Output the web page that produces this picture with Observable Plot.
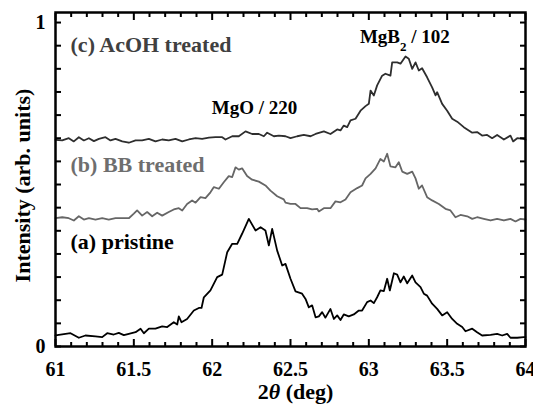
<!DOCTYPE html>
<html>
<head>
<meta charset="utf-8">
<script src="https://cdn.jsdelivr.net/npm/d3@7"></script>
<script src="https://cdn.jsdelivr.net/npm/@observablehq/plot@0.6"></script>
<style>
  html, body { margin: 0; padding: 0; background: #fff; }
  #chart { width: 533px; height: 407px; }
</style>
</head>
<body>
<div id="chart"></div>
<script>
// ---- Data ----
// (a) pristine
const thetaA = [61.000,61.064,61.096,61.149,61.191,61.255,61.298,61.330,61.372,61.404,61.436,61.468,61.511,61.543,61.564,61.596,61.638,61.681,61.713,61.755,61.777,61.787,61.804,61.840,61.883,61.915,61.932,61.947,61.989,62.032,62.064,62.096,62.128,62.160,62.191,62.234,62.277,62.309,62.340,62.362,62.383,62.415,62.447,62.468,62.500,62.532,62.574,62.596,62.617,62.638,62.660,62.681,62.702,62.723,62.755,62.777,62.798,62.819,62.840,62.872,62.904,62.936,62.957,62.989,63.011,63.032,63.053,63.074,63.096,63.117,63.134,63.160,63.181,63.202,63.223,63.245,63.277,63.298,63.330,63.351,63.372,63.404,63.436,63.468,63.500,63.532,63.564,63.596,63.617,63.660,63.691,63.723,63.777,63.819,63.851,63.883,63.904,63.947,63.989,64.000];
const intensityA = [0.034,0.039,0.041,0.027,0.034,0.031,0.029,0.041,0.037,0.042,0.035,0.039,0.044,0.055,0.041,0.055,0.055,0.062,0.060,0.075,0.068,0.093,0.075,0.085,0.111,0.119,0.119,0.152,0.173,0.214,0.222,0.291,0.317,0.317,0.348,0.394,0.358,0.368,0.358,0.312,0.363,0.296,0.250,0.255,0.209,0.170,0.163,0.147,0.121,0.127,0.090,0.093,0.106,0.089,0.116,0.085,0.096,0.082,0.099,0.093,0.099,0.111,0.111,0.137,0.142,0.134,0.152,0.173,0.171,0.209,0.173,0.226,0.222,0.198,0.216,0.195,0.219,0.198,0.183,0.163,0.157,0.132,0.116,0.096,0.106,0.085,0.070,0.060,0.047,0.055,0.044,0.034,0.036,0.039,0.034,0.039,0.027,0.027,0.029,0.029];

// (b) BB treated
const thetaB = [61.000,61.043,61.085,61.117,61.149,61.181,61.213,61.255,61.298,61.340,61.383,61.426,61.468,61.500,61.521,61.553,61.585,61.617,61.649,61.681,61.723,61.755,61.787,61.809,61.840,61.872,61.894,61.926,61.957,61.989,62.011,62.043,62.074,62.106,62.128,62.149,62.170,62.191,62.223,62.255,62.298,62.340,62.372,62.415,62.457,62.468,62.500,62.532,62.564,62.606,62.638,62.670,62.681,62.713,62.755,62.787,62.819,62.851,62.883,62.926,62.957,62.979,63.011,63.043,63.074,63.096,63.117,63.138,63.170,63.191,63.213,63.245,63.277,63.298,63.319,63.340,63.372,63.404,63.447,63.489,63.521,63.553,63.585,63.628,63.660,63.691,63.734,63.777,63.819,63.862,63.904,63.936,63.968,64.000];
const intensityB = [0.396,0.399,0.396,0.389,0.402,0.392,0.396,0.392,0.396,0.392,0.396,0.396,0.396,0.410,0.420,0.404,0.415,0.402,0.413,0.404,0.415,0.423,0.427,0.420,0.440,0.451,0.444,0.461,0.458,0.476,0.492,0.487,0.507,0.526,0.523,0.553,0.546,0.550,0.526,0.515,0.509,0.497,0.481,0.464,0.454,0.444,0.440,0.440,0.427,0.427,0.423,0.425,0.417,0.427,0.427,0.448,0.445,0.454,0.476,0.489,0.497,0.519,0.533,0.550,0.579,0.571,0.595,0.556,0.553,0.569,0.540,0.533,0.540,0.519,0.487,0.497,0.461,0.451,0.440,0.425,0.420,0.399,0.406,0.402,0.394,0.399,0.394,0.389,0.394,0.389,0.394,0.386,0.394,0.392];

// (c) AcOH treated
const thetaC = [61.000,61.043,61.085,61.117,61.149,61.181,61.213,61.245,61.277,61.319,61.351,61.383,61.426,61.468,61.511,61.553,61.596,61.638,61.681,61.723,61.766,61.809,61.851,61.894,61.936,61.979,62.021,62.064,62.085,62.128,62.170,62.213,62.255,62.298,62.330,62.351,62.394,62.426,62.468,62.500,62.543,62.585,62.628,62.660,62.713,62.755,62.798,62.819,62.840,62.862,62.883,62.915,62.947,62.979,63.000,63.011,63.032,63.053,63.085,63.106,63.138,63.149,63.181,63.202,63.234,63.255,63.277,63.298,63.319,63.340,63.372,63.404,63.426,63.436,63.468,63.500,63.532,63.564,63.606,63.660,63.691,63.723,63.755,63.787,63.819,63.862,63.904,63.921,63.947,63.989,64.000];
const intensityC = [0.638,0.636,0.643,0.633,0.646,0.636,0.643,0.634,0.641,0.646,0.636,0.641,0.633,0.629,0.636,0.636,0.641,0.633,0.639,0.636,0.641,0.633,0.639,0.643,0.641,0.645,0.646,0.646,0.639,0.649,0.649,0.664,0.656,0.656,0.649,0.660,0.649,0.651,0.649,0.643,0.649,0.653,0.649,0.656,0.664,0.656,0.670,0.667,0.682,0.677,0.698,0.703,0.728,0.742,0.749,0.790,0.775,0.806,0.836,0.842,0.836,0.877,0.877,0.873,0.895,0.888,0.857,0.877,0.852,0.859,0.831,0.800,0.775,0.785,0.749,0.728,0.703,0.694,0.677,0.660,0.662,0.651,0.653,0.643,0.653,0.639,0.651,0.633,0.643,0.641,0.638];

// Tick labels / tick values
const xMajorTicks = [61, 61.5, 62, 62.5, 63, 63.5, 64];
const xTickLabels = ["61", "61.5", "62", "62.5", "63", "63.5", "64"];
const xMinorTicks = [61.1,61.2,61.3,61.4,61.6,61.7,61.8,61.9,62.1,62.2,62.3,62.4,62.6,62.7,62.8,62.9,63.1,63.2,63.3,63.4,63.6,63.7,63.8,63.9];
const yLabelTicks = [0, 1];
const yTickLabels = ["0", "1"];
const yTicks = d3.range(15).map(k => k / 14);

// Series labels
const seriesLabels = ["(c) AcOH treated", "(b) BB treated", "(a) pristine"];
const peakLabels = ["MgO / 220", "MgB2 / 102"];
const xTitle = "2θ (deg)";
const yTitle = "Intensity (arb. units)";

// ---- Build tables ----
const rows = (th, iv) => th.map((t, i) => ({t, v: iv[i]}));
const dataA = rows(thetaA, intensityA);
const dataB = rows(thetaB, intensityB);
const dataC = rows(thetaC, intensityC);

const blank = () => "";
const FONT = "'Liberation Serif', 'Times New Roman', serif";

const plot = Plot.plot({
  width: 533,
  height: 407,
  marginLeft: 55,
  marginRight: 8,
  marginTop: 12,
  marginBottom: 61,
  style: {fontFamily: FONT, fontSize: "20px", fontWeight: "bold", background: "#fff", color: "#000", overflow: "visible"},
  x: {domain: [61, 64]},
  y: {domain: [0, 1.031]},
  marks: [
    // curves
    Plot.line(dataC, {x: "t", y: "v", stroke: "#2e2e2e", strokeWidth: 1.8}),
    Plot.line(dataB, {x: "t", y: "v", stroke: "#666666", strokeWidth: 1.8}),
    Plot.line(dataA, {x: "t", y: "v", stroke: "#000000", strokeWidth: 1.8}),
    // inward ticks
    Plot.axisX({anchor: "bottom", ticks: xMajorTicks, tickSize: -7, tickFormat: blank, label: null, strokeWidth: 2}),
    Plot.axisX({anchor: "bottom", ticks: xMinorTicks, tickSize: -4, tickFormat: blank, label: null, strokeWidth: 2}),
    Plot.axisX({anchor: "top", ticks: xMajorTicks, tickSize: -7, tickFormat: blank, label: null, strokeWidth: 2}),
    Plot.axisX({anchor: "top", ticks: xMinorTicks, tickSize: -4, tickFormat: blank, label: null, strokeWidth: 2}),
    Plot.axisY({anchor: "left", ticks: yTicks, tickSize: -6, tickFormat: blank, label: null, strokeWidth: 2}),
    Plot.axisY({anchor: "right", ticks: yTicks, tickSize: -6, tickFormat: blank, label: null, strokeWidth: 2}),
    // tick labels
    Plot.axisX({anchor: "bottom", ticks: xMajorTicks, tickSize: 0, tickPadding: 15,
      tickFormat: d => xTickLabels[xMajorTicks.indexOf(d)], label: null, fontSize: 20, fontWeight: "bold"}),
    Plot.axisY({anchor: "left", ticks: yLabelTicks, tickSize: 0, tickPadding: 10,
      tickFormat: d => yTickLabels[yLabelTicks.indexOf(d)], label: null, fontSize: 20, fontWeight: "bold"}),
    // frame
    Plot.frame({stroke: "#000", strokeWidth: 2.5}),
    // series labels
    Plot.text([seriesLabels[0]], {x: 61.096, y: 0.932, text: d => d, textAnchor: "start", fill: "#404040", fontSize: 22, fontWeight: "bold"}),
    Plot.text([seriesLabels[1]], {x: 61.096, y: 0.559, text: d => d, textAnchor: "start", fill: "#6e6e6e", fontSize: 22, fontWeight: "bold"}),
    Plot.text([seriesLabels[2]], {x: 61.096, y: 0.324, text: d => d, textAnchor: "start", fill: "#000", fontSize: 22, fontWeight: "bold"}),
    // peak labels
    Plot.text([peakLabels[0]], {x: 62.27, y: 0.735, text: d => d, fill: "#000", fontSize: 19, fontWeight: "bold"}),
    Plot.text([peakLabels[1]], {x: 63.23, y: 0.957, text: d => d, fill: "#000", fontSize: 19, fontWeight: "bold"}),
    // axis titles
    Plot.text([xTitle], {frameAnchor: "bottom", dx: 5, dy: 45, lineAnchor: "middle", textAnchor: "middle", text: d => d, fontSize: 22, fontWeight: "bold"}),
    Plot.text([yTitle], {frameAnchor: "left", dx: -33, dy: 6, rotate: -90, lineAnchor: "middle", textAnchor: "middle", text: d => d, fontSize: 22, fontWeight: "bold"})
  ]
});

document.getElementById("chart").appendChild(plot);

// Rich text: subscript in MgB2 and italic theta
d3.select(plot).selectAll("text").each(function () {
  const el = d3.select(this);
  const s = this.textContent;
  if (s === peakLabels[1]) {
    el.text(null);
    el.append("tspan").text("MgB");
    el.append("tspan").attr("dy", 8).attr("font-size", 13).text("2");
    el.append("tspan").attr("dy", -8).text(" / 102");
  } else if (s === xTitle) {
    el.text(null);
    el.append("tspan").text("2");
    el.append("tspan").attr("font-style", "italic").text("θ");
    el.append("tspan").text(" (deg)");
  }
});
</script>
</body>
</html>
